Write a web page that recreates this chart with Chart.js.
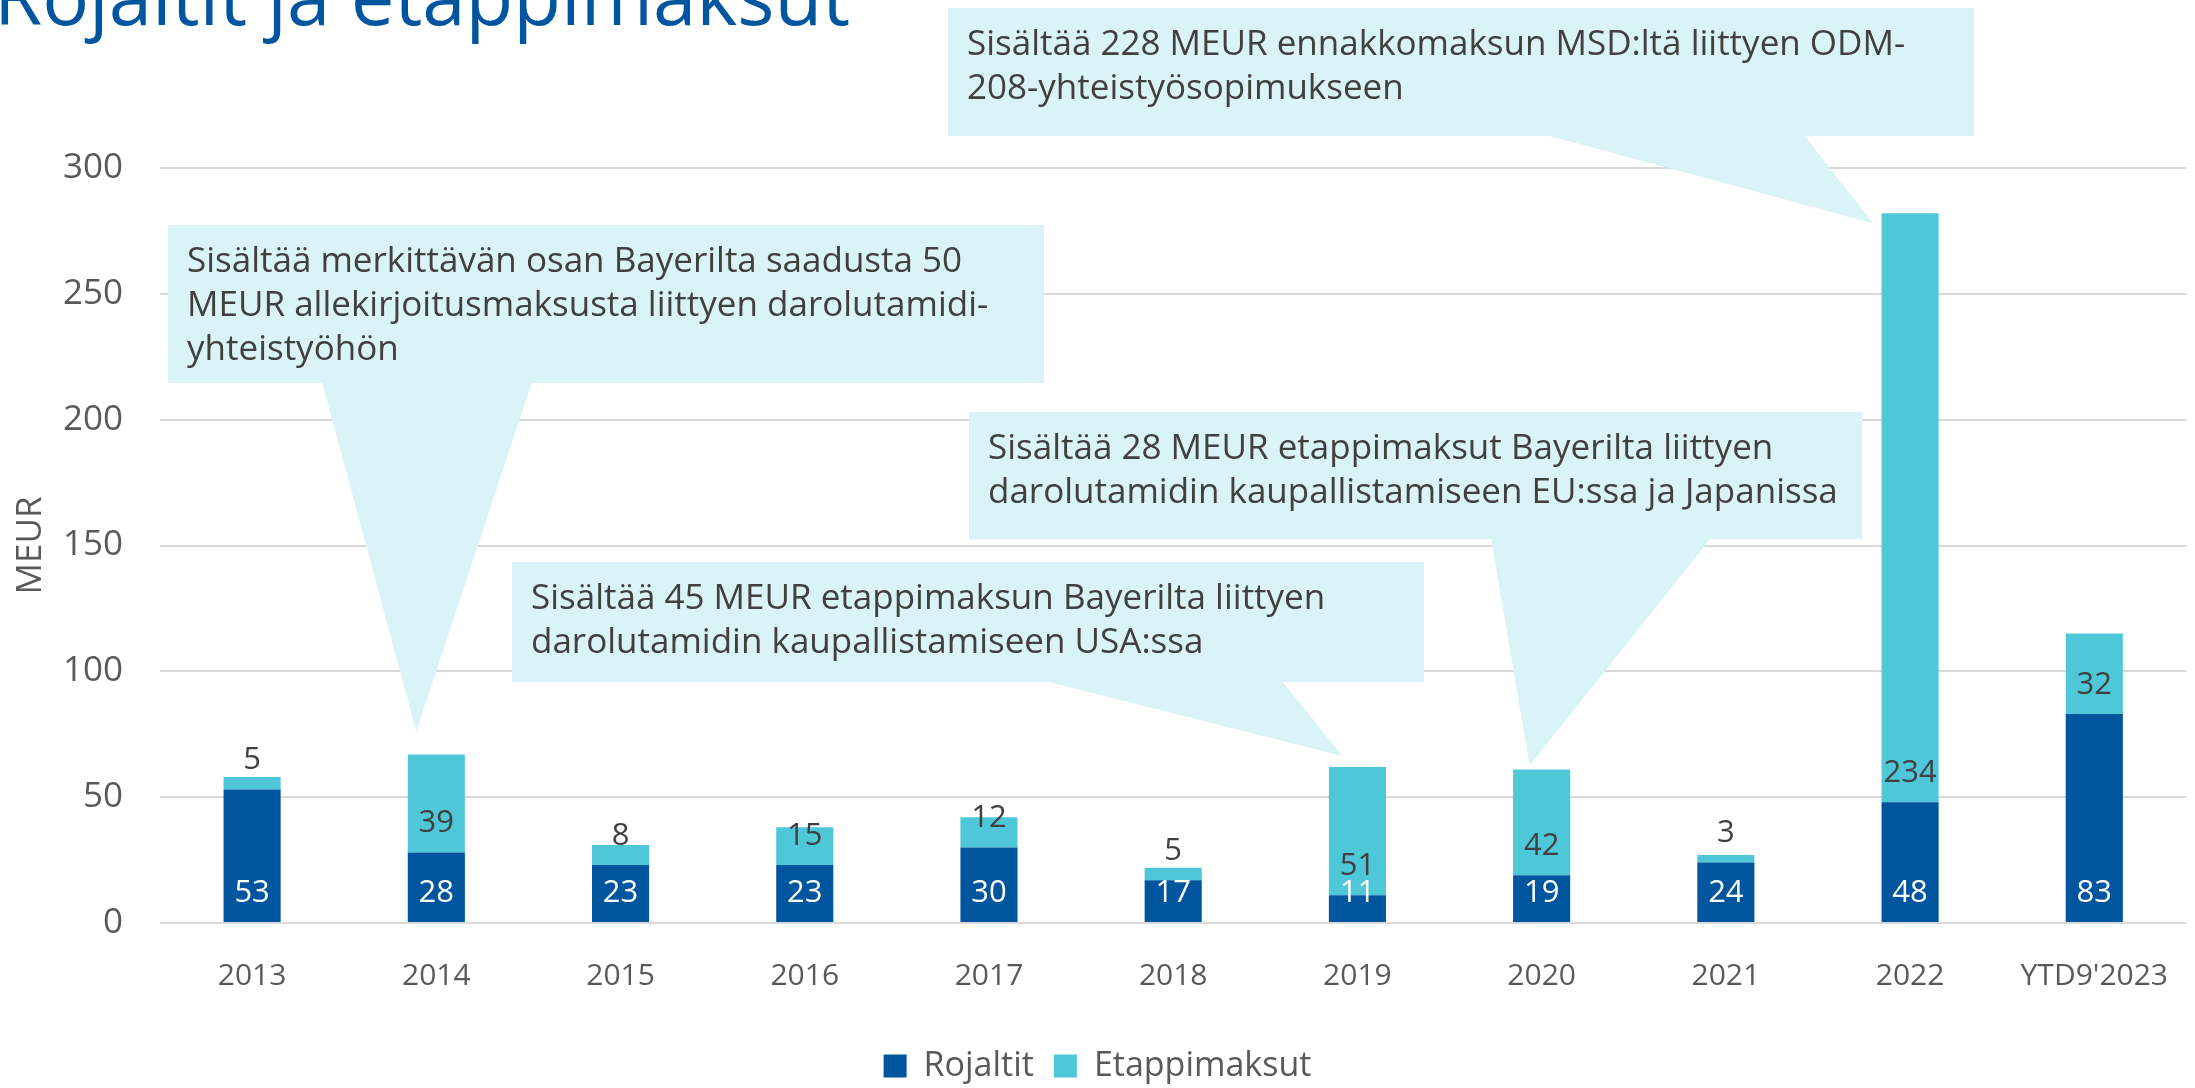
<!DOCTYPE html>
<html>
<head>
<meta charset="utf-8">
<script src="https://cdn.jsdelivr.net/npm/chart.js@4.4.1/dist/chart.umd.min.js"></script>
<style>
  html, body { margin: 0; padding: 0; background: #ffffff; overflow: hidden; }
  #wrap { position: relative; width: 2195px; height: 1088px; }
</style>
</head>
<body>
<div id="wrap"><canvas id="myChart" width="2195" height="1088"></canvas></div>
<script>
const years = ["2013", "2014", "2015", "2016", "2017", "2018", "2019", "2020", "2021", "2022", "YTD9'2023"];
const rojaltit = [53, 28, 23, 23, 30, 17, 11, 19, 24, 48, 83];
const etappimaksut = [5, 39, 8, 15, 12, 5, 51, 42, 3, 234, 32];
const seriesNames = ["Rojaltit", "Etappimaksut"];
const yMin = 0;
const yMax = 300;
const yStep = 50;

const FONT = "'Open Sans', 'Noto Sans', sans-serif";
const BLUE = "#00559f";
const TEAL = "#4ec8d8";
const GREY = "#595959";
const DARK = "#404040";
const NOTE_FILL = "#daf3f7";

// speech-bubble notes; the tip is anchored to the top of the bar at `index`
const notes = [
  {
    lines: ["Sisältää merkittävän osan Bayerilta saadusta 50",
            "MEUR allekirjoitusmaksusta liittyen darolutamidi-",
            "yhteistyöhön"],
    box: [168, 225, 1044, 383], base: [322, 532], index: 1, dx: -20, dy: -23,
  },
  {
    lines: ["Sisältää 228 MEUR ennakkomaksun MSD:ltä liittyen ODM-",
            "208-yhteistyösopimukseen"],
    box: [948, 8, 1974, 136], base: [1546, 1804], index: 9, dx: -37, dy: 10,
  },
  {
    lines: ["Sisältää 28 MEUR etappimaksut Bayerilta liittyen",
            "darolutamidin kaupallistamiseen EU:ssa ja Japanissa"],
    box: [969, 412, 1862, 539], base: [1491, 1711], index: 7, dx: -12, dy: -4,
  },
  {
    lines: ["Sisältää 45 MEUR etappimaksun Bayerilta liittyen",
            "darolutamidin kaupallistamiseen USA:ssa"],
    box: [512, 562, 1424, 682], base: [1045, 1282], index: 6, dx: -15, dy: -11,
  },
];

Chart.defaults.font.family = FONT;
Chart.defaults.color = GREY;

// slide heading, partly cut off by the top edge
const headingPlugin = {
  id: "heading",
  afterDraw(chart) {
    const ctx = chart.ctx;
    ctx.save();
    ctx.font = "78px " + FONT;
    ctx.fillStyle = BLUE;
    ctx.textBaseline = "alphabetic";
    ctx.textAlign = "left";
    ctx.fillText("Rojaltit ja etappimaksut", -6, 25);
    ctx.restore();
  },
};

// value labels near the base of every stacked segment
const segmentLabels = {
  id: "segmentLabels",
  afterDatasetsDraw(chart) {
    const ctx = chart.ctx;
    ctx.save();
    ctx.font = "31px " + FONT;
    ctx.textAlign = "center";
    ctx.textBaseline = "middle";
    chart.data.datasets.forEach((ds, di) => {
      const meta = chart.getDatasetMeta(di);
      ctx.fillStyle = di === 0 ? "#ffffff" : DARK;
      meta.data.forEach((bar, i) => {
        ctx.fillText(String(ds.data[i]), bar.x, bar.base - 29);
      });
    });
    ctx.restore();
  },
};

const notesPlugin = {
  id: "notes",
  afterDatasetsDraw(chart) {
    const ctx = chart.ctx;
    const xs = chart.scales.x;
    const ys = chart.scales.y;
    ctx.save();
    notes.forEach((n) => {
      const total = rojaltit[n.index] + etappimaksut[n.index];
      const tipX = xs.getPixelForValue(n.index) + n.dx;
      const tipY = ys.getPixelForValue(total) + n.dy;
      const [l, t, r, b] = n.box;
      ctx.fillStyle = NOTE_FILL;
      ctx.fillRect(l, t, r - l, b - t);
      ctx.beginPath();
      ctx.moveTo(n.base[0], b - 1);
      ctx.lineTo(n.base[1], b - 1);
      ctx.lineTo(tipX, tipY);
      ctx.closePath();
      ctx.fill();

      ctx.font = "35px " + FONT;
      ctx.fillStyle = DARK;
      ctx.textAlign = "left";
      ctx.textBaseline = "alphabetic";
      n.lines.forEach((line, k) => {
        ctx.fillText(line, l + 19, t + 47 + k * 44);
      });
    });
    ctx.restore();
  },
};

const ctx = document.getElementById("myChart").getContext("2d");
new Chart(ctx, {
  type: "bar",
  data: {
    labels: years,
    datasets: [
      {
        label: seriesNames[0],
        data: rojaltit,
        backgroundColor: BLUE,
        borderWidth: 0,
        barPercentage: 0.31,
        categoryPercentage: 1,
      },
      {
        label: seriesNames[1],
        data: etappimaksut,
        backgroundColor: TEAL,
        borderWidth: 0,
        barPercentage: 0.31,
        categoryPercentage: 1,
      },
    ],
  },
  options: {
    responsive: false,
    animation: false,
    layout: { padding: { top: 168, left: 0, right: 0, bottom: -5 } },
    scales: {
      x: {
        stacked: true,
        grid: { display: false },
        border: { display: false },
        ticks: { font: { size: 30 }, color: GREY, padding: 27, maxRotation: 0 },
        afterFit(scale) { scale.height = 106; },
      },
      y: {
        stacked: true,
        min: yMin,
        max: yMax,
        border: { display: false },
        grid: { color: "#d9d9d9", lineWidth: 2, drawTicks: false },
        ticks: { stepSize: yStep, font: { size: 35 }, color: GREY, padding: 37 },
        title: {
          display: true,
          text: "MEUR",
          font: { size: 35 },
          color: GREY,
          padding: { top: 10, bottom: 0 },
        },
        afterFit(scale) { scale.width = 160; },
      },
    },
    plugins: {
      tooltip: { enabled: false },
      legend: {
        position: "bottom",
        labels: {
          font: { size: 34 },
          color: GREY,
          boxWidth: 23,
          boxHeight: 23,
          padding: 20,
        },
      },
    },
  },
  plugins: [segmentLabels, notesPlugin, headingPlugin],
});
</script>
</body>
</html>
